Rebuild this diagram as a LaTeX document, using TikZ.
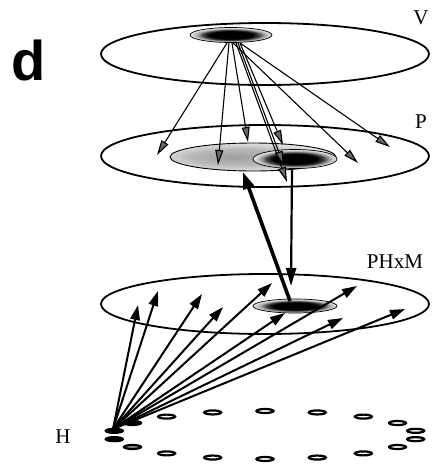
\documentclass[tikz,border=0pt]{standalone}
\usepackage{fontspec}
\setmainfont{Liberation Serif}
\newfontfamily\labsans{Liberation Sans}
\usetikzlibrary{arrows.meta}
\pgfdeclareradialshading{spotshade}{\pgfpoint{0bp}{0bp}}{color(0bp)=(black); color(13bp)=(black); color(17bp)=(black!75); color(20bp)=(black!40); color(23bp)=(black!18); color(25bp)=(black!10); color(50bp)=(black!10)}
\pgfdeclareradialshading{areashade}{\pgfpoint{-6bp}{0bp}}{color(0bp)=(black!38); color(14bp)=(black!28); color(25bp)=(black!12); color(50bp)=(black!12)}
\begin{document}
\begin{tikzpicture}[x=1pt,y=-1pt,
  plane/.style={draw=black, line width=1.8pt},
  spotstyle/.style={shading=spotshade, draw=black, line width=0.7pt},
  greyarea/.style={shading=areashade, draw=black, line width=0.9pt},
  varrow/.style={line width=1.1pt, -{Triangle[length=15pt,width=8pt,fill=black!60]}},
  harrow/.style={line width=2pt, -{Triangle[length=15pt,width=9.5pt]}},
  boldarrow/.style={line width=3.6pt, -{Triangle[length=17pt,width=11pt]}},
  downarrow/.style={line width=2.2pt, -{Triangle[length=18pt,width=10pt]}},
  hdot/.style={draw=black, line width=2.2pt},
  lab/.style={font=\fontsize{21}{21}\selectfont, inner sep=0pt}
]
\useasboundingbox (0,0) rectangle (432,464);

% panel letter
\node[inner sep=0pt, font=\labsans\bfseries\fontsize{56}{56}\selectfont] (letter) at (29,60) {d};

% planes
\draw[plane] (265,54) ellipse [x radius=164pt, y radius=31pt];
\draw[plane] (265,156) ellipse [x radius=164pt, y radius=31pt];
\draw[plane] (265,304) ellipse [x radius=164pt, y radius=30pt];

% spots
\path[spotstyle] (231,35) ellipse [x radius=41pt, y radius=7.5pt];
\path[greyarea] (253,157) ellipse [x radius=83pt, y radius=14pt];
\path[spotstyle] (295,159) ellipse [x radius=42pt, y radius=9.5pt];
\path[spotstyle] (295,306) ellipse [x radius=42pt, y radius=7pt];

% labels
\node[lab] (labV) at (421,18) {V};
\node[lab] (labP) at (421,122) {P};
\node[lab] (labPHxM) at (395,262) {PHxM};
\node[lab] (labH) at (63,437) {H};

% H dots
\foreach \a/\f in {10/white,30/white,50/white,70/white,90/white,110/white,130/white,150/black,170/black,190/black,210/black!45,230/white,250/white,270/white,290/white,310/white,330/white,350/white}{
  \path[hdot, fill=\f] ({265+153*cos(\a)},{435-24*sin(\a)}) ellipse [x radius=8.5pt, y radius=2pt];
}

% V -> P arrows
\coordinate (va1) at (227,43); \coordinate (vb1) at (157,155);
\coordinate (va2) at (229,43); \coordinate (vb2) at (218,165);
\coordinate (va3) at (232,43); \coordinate (vb3) at (248,142);
\coordinate (va4) at (236,43); \coordinate (vb4) at (287,182);
\coordinate (va5) at (238,43); \coordinate (vb5) at (284,166);
\coordinate (va6) at (240,43); \coordinate (vb6) at (283,145);
\coordinate (va7) at (233,43); \coordinate (vb7) at (358,163);
\coordinate (va8) at (240,43); \coordinate (vb8) at (390,147);
\foreach \i in {1,...,8}{ \draw[varrow] (va\i) -- (vb\i); }

% P <-> PHxM
\coordinate (sA) at (290,301); \coordinate (tA) at (243,172);
\coordinate (sB) at (292,168); \coordinate (tB) at (291,286);
\draw[downarrow] (sB) -- (tB);
\draw[boldarrow] (sA) -- (tA);

% H -> PHxM arrows
\coordinate (hs) at (113,429);
\foreach \x/\y in {138/305,158/291,202/294,223/307,272/283,285/313,343/318,357/286,405/309}{
  \coordinate (ht) at (\x,\y);
  \draw[harrow] (hs) -- (ht);
}
\end{tikzpicture}
\end{document}
